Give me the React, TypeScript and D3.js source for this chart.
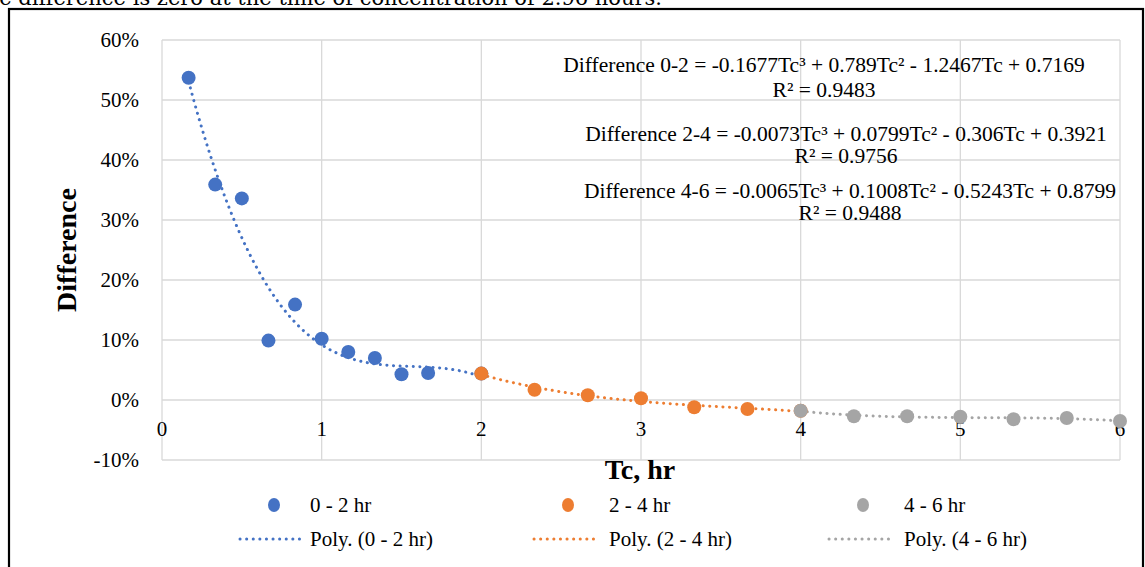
import React from "react";
import * as d3 from "d3";

const W = 1145;
const H = 567;

// data
const xTicks = [0, 1, 2, 3, 4, 5, 6];
const yTicks = [-0.1, 0, 0.1, 0.2, 0.3, 0.4, 0.5, 0.6];

const s02X = [0.1667, 0.3333, 0.5, 0.6667, 0.8333, 1.0, 1.1667, 1.3333, 1.5, 1.6667, 2.0];
const s02Y = [0.537, 0.359, 0.336, 0.099, 0.159, 0.102, 0.08, 0.07, 0.043, 0.045, 0.044];
const s24X = [2.0, 2.3333, 2.6667, 3.0, 3.3333, 3.6667, 4.0];
const s24Y = [0.044, 0.017, 0.008, 0.003, -0.012, -0.015, -0.018];
const s46X = [4.0, 4.3333, 4.6667, 5.0, 5.3333, 5.6667, 6.0];
const s46Y = [-0.018, -0.027, -0.027, -0.028, -0.032, -0.03, -0.035];

const seriesNames = ["0 - 2 hr", "2 - 4 hr", "4 - 6 hr"];
const trendNames = ["Poly. (0 - 2 hr)", "Poly. (2 - 4 hr)", "Poly. (4 - 6 hr)"];
const colors = ["#4472C4", "#ED7D31", "#A5A5A5"];

const eqLines = [
  ["Difference 0-2 = -0.1677Tc³ + 0.789Tc² - 1.2467Tc + 0.7169", "R² = 0.9483"],
  ["Difference 2-4 = -0.0073Tc³ + 0.0799Tc² - 0.306Tc + 0.3921", "R² = 0.9756"],
  ["Difference 4-6 = -0.0065Tc³ + 0.1008Tc² - 0.5243Tc + 0.8799", "R² = 0.9488"],
];

const topText = "e difference is zero at the time of concentration of 2.96 hours.";

const FONT = "'Liberation Serif', 'Times New Roman', serif";

// least-squares polynomial fit (like Excel's polynomial trendline)
function polyFit(xs: number[], ys: number[], deg: number): number[] {
  const n = deg + 1;
  const A: number[][] = Array.from({ length: n }, () => new Array(n + 1).fill(0));
  for (let k = 0; k < xs.length; k++) {
    for (let i = 0; i < n; i++) {
      for (let j = 0; j < n; j++) A[i][j] += Math.pow(xs[k], i + j);
      A[i][n] += ys[k] * Math.pow(xs[k], i);
    }
  }
  for (let c = 0; c < n; c++) {
    let p = c;
    for (let r = c + 1; r < n; r++) if (Math.abs(A[r][c]) > Math.abs(A[p][c])) p = r;
    [A[c], A[p]] = [A[p], A[c]];
    for (let r = 0; r < n; r++) {
      if (r === c) continue;
      const f = A[r][c] / A[c][c];
      for (let j = c; j <= n; j++) A[r][j] -= f * A[c][j];
    }
  }
  return A.map((row, i) => row[n] / row[i]); // coefficients a0..a3
}

export default function App() {
  const x = d3.scaleLinear().domain([0, 6]).range([162, 1120]);
  const y = d3.scaleLinear().domain([-0.1, 0.6]).range([460, 40]);

  const series = [
    { xs: s02X, ys: s02Y },
    { xs: s24X, ys: s24Y },
    { xs: s46X, ys: s46Y },
  ];

  const line = d3
    .line<[number, number]>()
    .x((d) => x(d[0]))
    .y((d) => y(d[1]));

  const trendPath = (xs: number[], ys: number[]) => {
    const c = polyFit(xs, ys, 3);
    const x0 = d3.min(xs)!;
    const x1 = d3.max(xs)!;
    const n = 120;
    const pts: [number, number][] = d3.range(n + 1).map((i) => {
      const t = x0 + ((x1 - x0) * i) / n;
      return [t, c[0] + c[1] * t + c[2] * t * t + c[3] * t * t * t];
    });
    return line(pts) || "";
  };

  const eqCenters = [824, 846, 850];
  const eqBase = [[72, 97], [141, 163], [198, 220]];

  const legendX = [274, 568, 863];
  const legendTextX = [310, 609, 904];

  return (
    <svg
      width={W}
      height={H}
      style={{ position: "absolute", left: 0, top: 0, background: "#fff" }}
      fontFamily={FONT}
    >
      <rect x={0} y={0} width={W} height={H} fill="#fff" />
      <text x={662} y={5} fontSize={21} fontFamily="'DejaVu Serif', serif" textAnchor="end" fill="#000">
        {topText}
      </text>
      <rect x={9} y={9} width={1134} height={600} fill="none" stroke="#000" strokeWidth={2.2} />

      {/* gridlines */}
      {yTicks.map((t) => (
        <line key={"gy" + t} x1={x(0)} x2={x(6)} y1={y(t)} y2={y(t)} stroke="#D9D9D9" strokeWidth={1.3} />
      ))}
      {xTicks.map((t) => (
        <line key={"gx" + t} x1={x(t)} x2={x(t)} y1={y(0.6)} y2={y(-0.1)} stroke="#D9D9D9" strokeWidth={1.3} />
      ))}

      {/* y tick labels */}
      {yTicks.map((t) => (
        <text key={"ty" + t} x={139} y={y(t) + 7} fontSize={21} textAnchor="end" fill="#000">
          {Math.round(t * 100) + "%"}
        </text>
      ))}
      {/* x tick labels */}
      {xTicks.map((t) => (
        <text key={"tx" + t} x={x(t)} y={y(0) + 36} fontSize={21} textAnchor="middle" fill="#000">
          {t}
        </text>
      ))}

      {/* axis titles */}
      <text
        transform={`translate(76,250) rotate(-90)`}
        fontSize={28}
        fontWeight="bold"
        textAnchor="middle"
        fill="#000"
      >
        Difference
      </text>
      <text x={640} y={479} fontSize={28} fontWeight="bold" textAnchor="middle" fill="#000">
        Tc, hr
      </text>

      {/* trendlines */}
      {series.map((s, i) => (
        <path
          key={"tr" + i}
          d={trendPath(s.xs, s.ys)}
          fill="none"
          stroke={colors[i]}
          strokeWidth={3}
          strokeLinecap="round"
          strokeDasharray="0.1 6.5"
        />
      ))}

      {/* markers */}
      {series.map((s, i) => (
        <g key={"m" + i}>
          {s.xs.map((xv, j) => (
            <circle key={j} cx={x(xv)} cy={y(s.ys[j])} r={7} fill={colors[i]} />
          ))}
        </g>
      ))}

      {/* equations */}
      {eqLines.map((l, i) => (
        <g key={"eq" + i}>
          <text x={eqCenters[i]} y={eqBase[i][0]} fontSize={21.5} textAnchor="middle" fill="#000">
            {l[0]}
          </text>
          <text x={eqCenters[i]} y={eqBase[i][1]} fontSize={21.5} textAnchor="middle" fill="#000">
            {l[1]}
          </text>
        </g>
      ))}

      {/* legend */}
      {seriesNames.map((n, i) => (
        <g key={"lg" + i}>
          <ellipse cx={legendX[i]} cy={505} rx={6} ry={7} fill={colors[i]} />
          <text x={legendTextX[i]} y={512} fontSize={21} fill="#000">
            {n}
          </text>
        </g>
      ))}
      {trendNames.map((n, i) => (
        <g key={"lt" + i}>
          <line
            x1={legendX[i] - 34}
            x2={legendX[i] + 30}
            y1={539}
            y2={539}
            stroke={colors[i]}
            strokeWidth={3}
            strokeLinecap="round"
            strokeDasharray="0.1 6.5"
          />
          <text x={legendTextX[i]} y={546} fontSize={21} fill="#000">
            {n}
          </text>
        </g>
      ))}
    </svg>
  );
}
